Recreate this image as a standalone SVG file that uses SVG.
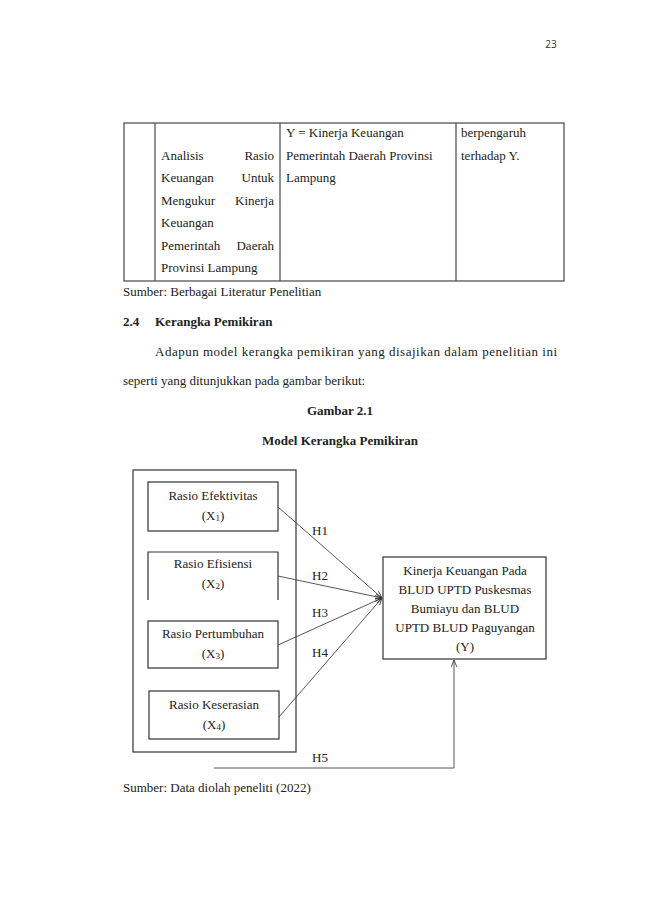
<svg xmlns="http://www.w3.org/2000/svg" width="650" height="919" viewBox="0 0 650 919">
<defs>
<style>
.t{font-family:"Liberation Serif","Times New Roman",serif;font-size:13px;fill:#222}
.b{font-weight:bold}
.d{font-family:"Liberation Serif","Times New Roman",serif;font-size:13px;fill:#222}
.m{text-anchor:middle}
.e{text-anchor:end}
.tb{fill:none;stroke:#555;stroke-width:1.3}
.bx{fill:#fff;stroke:#333;stroke-width:1.2}
.ln{fill:none;stroke:#444;stroke-width:0.9}
</style>
<marker id="ah" viewBox="0 0 10 10" refX="10" refY="5" markerWidth="7" markerHeight="7" orient="auto" markerUnits="userSpaceOnUse">
<path d="M0,1 L10,5 L0,9" fill="none" stroke="#333" stroke-width="1.2"/>
</marker>
</defs>
<rect width="650" height="919" fill="#fff"/>
<text x="551" y="48" font-family="'Open Sans','Liberation Sans',sans-serif" font-size="10" fill="#333" text-anchor="middle">23</text>

<g id="table">
<rect class="tb" x="124" y="123" width="440" height="158"/>
<line class="tb" x1="155" y1="123" x2="155" y2="281"/>
<line class="tb" x1="280" y1="123" x2="280" y2="281"/>
<line class="tb" x1="456" y1="123" x2="456" y2="281"/>
<text class="t" x="161" y="160">Analisis</text><text class="t e" x="274" y="160">Rasio</text>
<text class="t" x="161" y="182">Keuangan</text><text class="t e" x="274" y="182">Untuk</text>
<text class="t" x="161" y="205">Mengukur</text><text class="t e" x="274" y="205">Kinerja</text>
<text class="t" x="161" y="227">Keuangan</text>
<text class="t" x="161" y="250">Pemerintah</text><text class="t e" x="274" y="250">Daerah</text>
<text class="t" x="161" y="272">Provinsi Lampung</text>
<text class="t" x="286" y="137">Y = Kinerja Keuangan</text>
<text class="t" x="286" y="160">Pemerintah Daerah Provinsi</text>
<text class="t" x="286" y="182">Lampung</text>
<text class="t" x="461" y="137">berpengaruh</text>
<text class="t" x="461" y="160">terhadap Y.</text>
</g>
<text class="t" x="123" y="296">Sumber: Berbagai Literatur Penelitian</text>

<text class="t b" x="123" y="326">2.4</text>
<text class="t b" x="155" y="326">Kerangka Pemikiran</text>
<text class="t" x="155" y="356" textLength="402" lengthAdjust="spacing">Adapun model kerangka pemikiran yang disajikan dalam penelitian ini</text>
<text class="t" x="123" y="385">seperti yang ditunjukkan pada gambar berikut:</text>
<text class="t b m" x="340" y="415">Gambar 2.1</text>
<text class="t b m" x="340" y="445">Model Kerangka Pemikiran</text>

<g id="outer"><rect class="bx" x="133" y="470" width="163" height="282"/></g>
<g id="x1">
<rect class="bx" x="148" y="482" width="130" height="49"/>
<text class="d m" x="213" y="500">Rasio Efektivitas</text>
<text class="d m" x="213" y="520">(X<tspan font-size="9" dy="1">1</tspan><tspan dy="-1">)</tspan></text>
</g>
<g id="x2">
<path class="bx" d="M148,600 L148,552 L278,552 L278,600"/>
<text class="d m" x="213" y="568">Rasio Efisiensi</text>
<text class="d m" x="213" y="588">(X<tspan font-size="9" dy="1">2</tspan><tspan dy="-1">)</tspan></text>
</g>
<g id="x3">
<rect class="bx" x="148" y="621" width="130" height="47"/>
<text class="d m" x="213" y="638">Rasio Pertumbuhan</text>
<text class="d m" x="213" y="658">(X<tspan font-size="9" dy="1">3</tspan><tspan dy="-1">)</tspan></text>
</g>
<g id="x4">
<rect class="bx" x="149" y="691" width="130" height="48"/>
<text class="d m" x="214" y="709">Rasio Keserasian</text>
<text class="d m" x="214" y="729">(X<tspan font-size="9" dy="1">4</tspan><tspan dy="-1">)</tspan></text>
</g>
<g id="y">
<rect class="bx" x="383" y="557" width="163" height="102"/>
<text class="d m" x="465" y="575">Kinerja Keuangan Pada</text>
<text class="d m" x="465" y="594">BLUD UPTD Puskesmas</text>
<text class="d m" x="465" y="613">Bumiayu dan BLUD</text>
<text class="d m" x="465" y="632">UPTD BLUD Paguyangan</text>
<text class="d m" x="465" y="651">(Y)</text>
</g>
<g id="connectors">
<line class="ln" x1="278" y1="507" x2="382" y2="598" marker-end="url(#ah)"/>
<line class="ln" x1="278" y1="576" x2="382" y2="598" marker-end="url(#ah)"/>
<line class="ln" x1="278" y1="645" x2="382" y2="598" marker-end="url(#ah)"/>
<line class="ln" x1="279" y1="717" x2="382" y2="598" marker-end="url(#ah)"/>
<path class="ln" d="M214,768 L454,768 L454,660" stroke-width="1.2" marker-end="url(#ah)"/>
<text class="d" x="312" y="535">H1</text>
<text class="d" x="312" y="580">H2</text>
<text class="d" x="312" y="617">H3</text>
<text class="d" x="312" y="657">H4</text>
<text class="d" x="312" y="762">H5</text>
</g>
<text class="t" x="123" y="792">Sumber: Data diolah peneliti (2022)</text>
</svg>
